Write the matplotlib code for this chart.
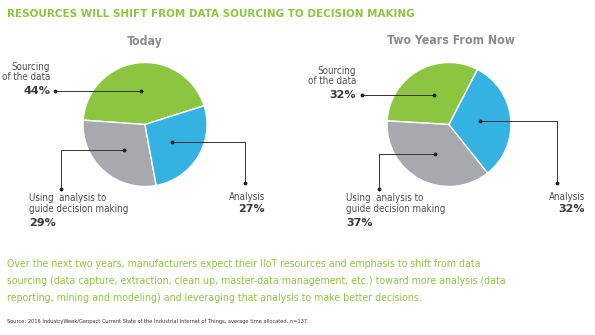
import numpy as np
import matplotlib.pyplot as plt

# wedge order (counter-clockwise): sourcing, using analysis, analysis
labels = ['Sourcing\nof the data', 'Using  analysis to\nguide decision making', 'Analysis']
today = [44, 29, 27]
two_years = [32, 37, 32]
titles = ['Today', 'Two Years From Now']
colors = ['#8cc540', '#a8a9ac', '#34b2e1']

W, H = 595, 335
green = '#8cc540'
gray_txt = '#4d4d4f'
cond = dict(family='DejaVu Sans', stretch='condensed')

fig = plt.figure(figsize=(W / 100, H / 100), dpi=100)


def box(x0, y0, x1, y1):
    return [x0 / W, 1 - y1 / H, (x1 - x0) / W, (y1 - y0) / H]


# pie boxes in pixels (left, top, right, bottom)
pie_boxes = [(83, 57, 207, 192), (387, 57, 511, 192)]
starts = [17.6, 62.6]
title_x = [145, 451]

ov = fig.add_axes([0, 0, 1, 1], zorder=5)
ov.set_xlim(0, W)
ov.set_ylim(H, 0)
ov.axis('off')

# callout layout: (x where the horizontal run ends, y where the vertical run ends, text x, text ha)
callouts = [
    [(55, None, 50, 'right'), (61, 189, 29, 'left'), (245, 183, 265, 'right')],
    [(362, None, 356, 'right'), (379, 189, 346, 'left'), (557, 183, 585, 'right')],
]

for k, vals in enumerate([today, two_years]):
    x0, y0, x1, y1 = pie_boxes[k]
    ax = fig.add_axes(box(x0, y0, x1, y1))
    ax.pie(vals, colors=colors, startangle=starts[k], counterclock=True,
           wedgeprops=dict(edgecolor='white', linewidth=1), frame=True)
    ax.set_xlim(-1, 1)
    ax.set_ylim(-1, 1)
    ax.axis('off')

    ov.text(title_x[k], 41, titles[k], ha='center', va='center',
            fontsize=8.8, fontweight='bold', color='#8b8c8e', **cond)

    cx, cy = (x0 + x1) / 2, (y0 + y1) / 2
    rx, ry = (x1 - x0) / 2, (y1 - y0) / 2
    frac = np.array(vals) / sum(vals)
    edges = starts[k] + 360 * np.concatenate([[0], np.cumsum(frac)])
    for i in range(3):
        mid = np.radians((edges[i] + edges[i + 1]) / 2)
        dx = cx + 0.5 * rx * np.cos(mid)
        dy = cy - 0.5 * ry * np.sin(mid)
        hx, vy, tx, ha = callouts[k][i]
        pct = '%d%%' % vals[i]
        if vy is None:
            ov.plot([dx, hx], [dy, dy], color='#333333', lw=0.7)
            ov.plot([dx, hx], [dy, dy], 'o', color='#222222', ms=1.8)
            ov.text(tx, dy - 19, labels[i], ha=ha, va='center', fontsize=7,
                    color=gray_txt, linespacing=1.05, **cond)
            ov.text(tx, dy, pct, ha=ha, va='center', fontsize=8,
                    fontweight='bold', color='#3a3a3c', family='DejaVu Sans')
        else:
            ov.plot([dx, hx, hx], [dy, dy, vy], color='#333333', lw=0.7)
            ov.plot([dx, hx], [dy, vy], 'o', color='#222222', ms=1.8)
            n = labels[i].count('\n') + 1
            ov.text(tx, 197 + 6.5 * (n - 1), labels[i], ha=ha, va='center', fontsize=7,
                    color=gray_txt, linespacing=1.14, **cond)
            ov.text(tx, 197 + 13 * (n - 1) + 12.5, pct, ha=ha, va='center',
                    fontsize=8, fontweight='bold', color='#3a3a3c', family='DejaVu Sans')

ov.text(7, 14, 'RESOURCES WILL SHIFT FROM DATA SOURCING TO DECISION MAKING',
        ha='left', va='center', fontsize=8.25, fontweight='bold', color=green, **cond)

body = ('Over the next two years, manufacturers expect their IIoT resources and emphasis to shift from data\n'
        'sourcing (data capture, extraction, clean up, master-data management, etc.) toward more analysis (data\n'
        'reporting, mining and modeling) and leveraging that analysis to make better decisions.')
ov.text(7, 281, body, ha='left', va='center', fontsize=7.6, color=green,
        linespacing=1.85, **cond)
ov.text(7, 322, 'Source: 2016 IndustryWeek/Genpact Current State of the Industrial Internet of Things, '
        'average time allocated, n=137.', ha='left', va='center', fontsize=4.05,
        color='#333333', **cond)

fig.savefig('out.png', dpi=100)
